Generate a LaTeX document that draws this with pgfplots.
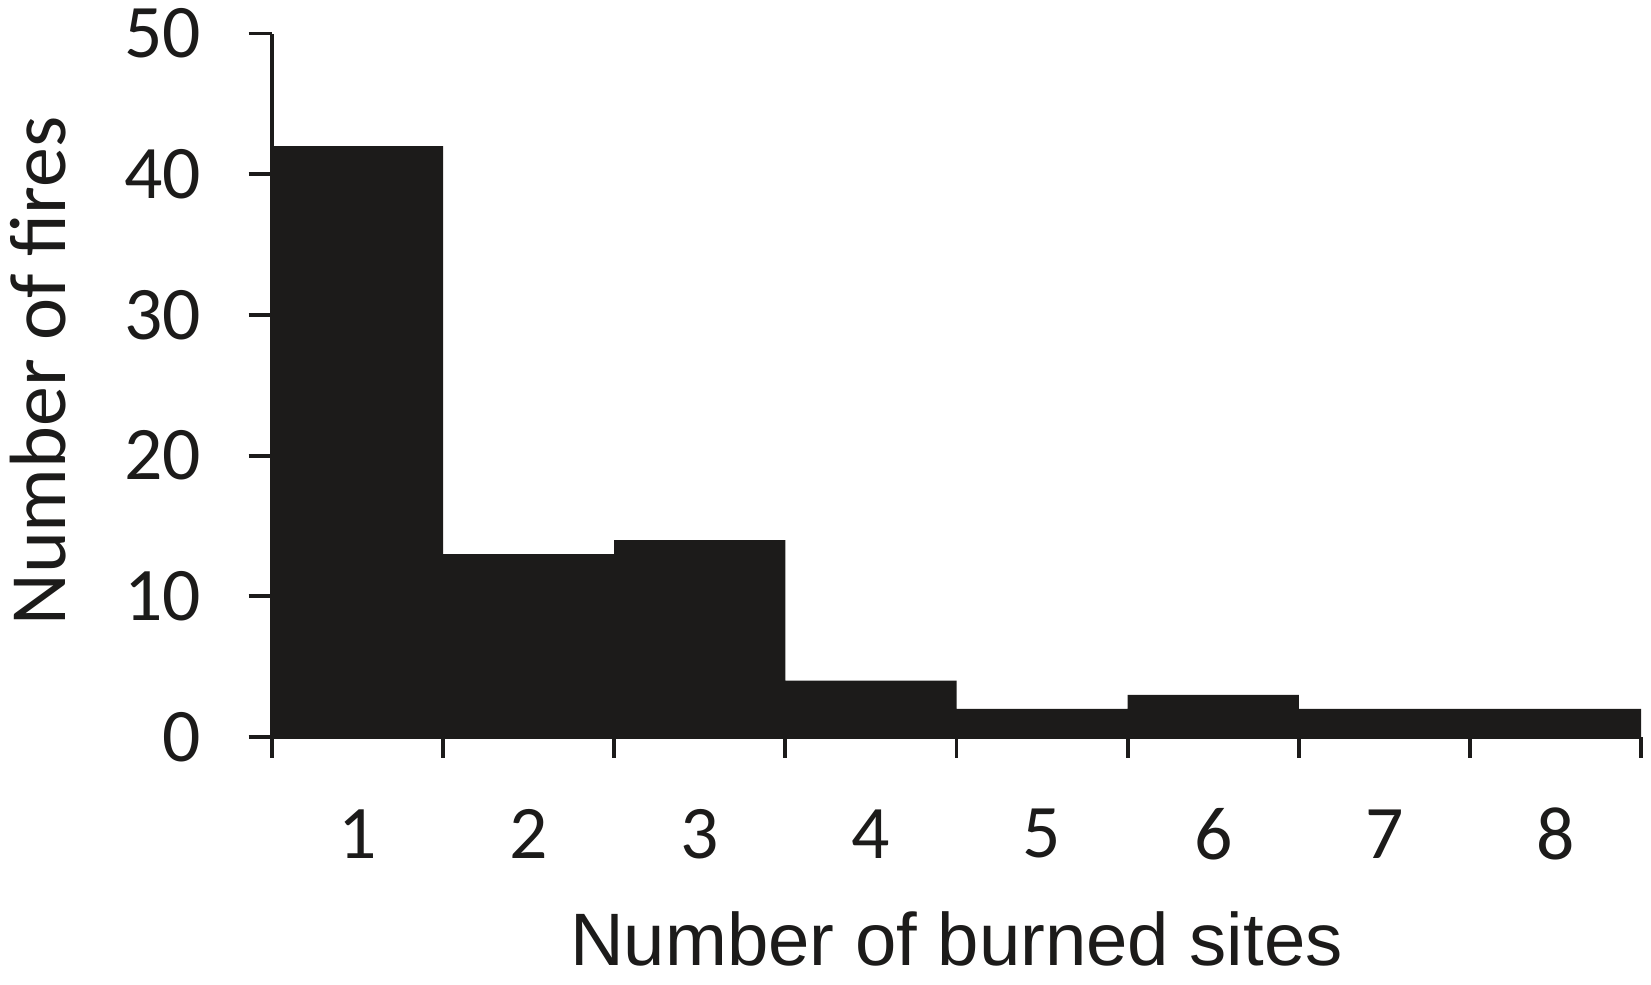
\documentclass[border=0pt]{standalone}
\usepackage{fontspec}
\setmainfont{Carlito}
\newfontfamily\arialfont{Liberation Sans}
\usepackage{pgfplots}
\pgfplotsset{compat=1.18}
\definecolor{barc}{RGB}{28,27,26}
\begin{document}
\begin{tikzpicture}
\path[use as bounding box] (-98.8pt,-90.1pt) rectangle (501.1pt,267.8pt);
\begin{axis}[
  scale only axis,
  width=497.5pt, height=255.6pt,
  xmin=0.5, xmax=8.5, ymin=0, ymax=50,
  axis x line*=bottom, axis y line*=left,
  axis line style={line width=1.4pt, color=barc},
  every tick/.style={line width=1.4pt, color=barc},
  tick align=outside,
  major tick length=8.5pt,
  minor tick length=7.5pt,
  xtick={1,...,8},
  minor xtick={0.5,1.5,...,8.5},
  major x tick style={draw=none},
  ytick={0,10,...,50},
  /pgf/number format/assume math mode=true,
  ticklabel style={font=\fontsize{27.5}{32}\selectfont, color=barc},
  yticklabel style={anchor=east, inner sep=0pt, xshift=-17pt},
  xticklabel style={anchor=center, inner sep=0pt, yshift=-26.7pt},
  xlabel={Number of burned sites},
  ylabel={Number of fires},
  xlabel style={font=\arialfont\fontsize{27}{32}\selectfont, at={(axis description cs:0.5,0)}, anchor=base, inner sep=0pt, text depth=0pt, yshift=-83pt, color=barc},
  ylabel style={font=\fontsize{29}{34}\selectfont, at={(axis description cs:0,0)}, anchor=center, xshift=133pt, yshift=85pt, color=barc},
]
\addplot[ybar interval, fill=barc, draw=none] coordinates {
(0.5,42) (1.5,13) (2.5,14) (3.5,4) (4.5,2) (5.5,3) (6.5,2) (7.5,2) (8.5,2)
};
\end{axis}
\end{tikzpicture}
\end{document}
